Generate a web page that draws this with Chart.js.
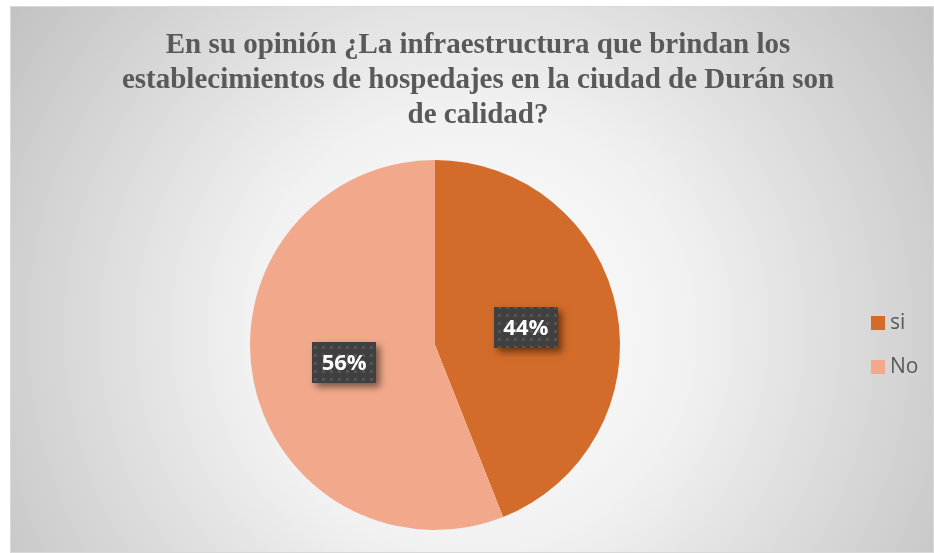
<!DOCTYPE html>
<html lang="es">
<head>
<meta charset="UTF-8">
<title>Infraestructura hospedajes Durán</title>
<script src="https://cdn.jsdelivr.net/npm/chart.js"></script>
<style>
  html, body { margin: 0; padding: 0; background: #ffffff; }
  #wrap { width: 934px; height: 553px; position: relative; }
</style>
</head>
<body>
<div id="wrap"><canvas id="pie"></canvas></div>
<script>
const categories = ["si", "No"];
const percents = [44, 56];
const sliceColors = ["#D36C2B", "#F2A98B"];
const titleLines = [
  "En su opinión ¿La infraestructura que brindan los",
  "establecimientos de hospedajes en la ciudad de Durán son",
  "de calidad?"
];

// dotted pattern for the label boxes
function makePattern(ctx) {
  const p = document.createElement("canvas");
  p.width = 8; p.height = 8;
  const c = p.getContext("2d");
  c.fillStyle = "#404040";
  c.fillRect(0, 0, 8, 8);
  c.fillStyle = "#555555";
  c.fillRect(2, 2, 3, 3);
  return ctx.createPattern(p, "repeat");
}

const backdrop = {
  id: "backdrop",
  beforeDraw(chart) {
    const ctx = chart.ctx;
    ctx.save();
    const g = ctx.createRadialGradient(470, 330, 0, 470, 330, 560);
    g.addColorStop(0, "#ffffff");
    g.addColorStop(0.4, "#f1f1f1");
    g.addColorStop(1, "#c2c2c2");
    ctx.fillStyle = g;
    ctx.fillRect(10, 6, 924, 547);
    ctx.strokeStyle = "#d9d9d9";
    ctx.lineWidth = 1;
    ctx.strokeRect(10.5, 6.5, 923, 546);

    // title
    ctx.fillStyle = "#595959";
    ctx.font = "bold 29px 'Liberation Serif', 'Times New Roman', serif";
    ctx.textAlign = "center";
    ctx.textBaseline = "middle";
    titleLines.forEach((t, i) => ctx.fillText(t, 478, 46 + i * 35));
    ctx.restore();
  }
};

const extras = {
  id: "extras",
  afterDatasetsDraw(chart) {
    const ctx = chart.ctx;
    const meta = chart.getDatasetMeta(0);
    const pat = makePattern(ctx);
    ctx.save();
    meta.data.forEach((arc, i) => {
      const pt = arc.getCenterPoint();
      const w = 64, h = 41;
      const x = Math.round(pt.x - w / 2), y = Math.round(pt.y - h / 2);
      ctx.save();
      ctx.shadowColor = "rgba(0,0,0,0.5)";
      ctx.shadowBlur = 7;
      ctx.shadowOffsetX = 4;
      ctx.shadowOffsetY = 4;
      ctx.fillStyle = "#404040";
      ctx.fillRect(x, y, w, h);
      ctx.restore();
      ctx.fillStyle = pat;
      ctx.fillRect(x, y, w, h);
      ctx.fillStyle = "#ffffff";
      ctx.font = "bold 22px 'Open Sans', sans-serif";
      ctx.textAlign = "center";
      ctx.textBaseline = "middle";
      ctx.fillText(percents[i] + "%", pt.x, pt.y + 1);
    });

    // legend
    ctx.font = "21px 'Open Sans', sans-serif";
    ctx.textAlign = "left";
    ctx.textBaseline = "middle";
    categories.forEach((c, i) => {
      const cy = 323 + i * 44;
      ctx.fillStyle = sliceColors[i];
      ctx.fillRect(871, cy - 7, 14, 14);
      ctx.fillStyle = "#595959";
      ctx.fillText(c, 890, cy);
    });
    ctx.restore();
  }
};

new Chart(document.getElementById("pie"), {
  type: "pie",
  data: {
    labels: categories,
    datasets: [{
      data: percents,
      backgroundColor: sliceColors,
      borderWidth: 0
    }]
  },
  options: {
    responsive: true,
    maintainAspectRatio: false,
    animation: false,
    layout: { padding: { top: 160, bottom: 23, left: 200, right: 264 } },
    plugins: {
      legend: { display: false },
      tooltip: { enabled: false }
    }
  },
  plugins: [backdrop, extras]
});
</script>
</body>
</html>
